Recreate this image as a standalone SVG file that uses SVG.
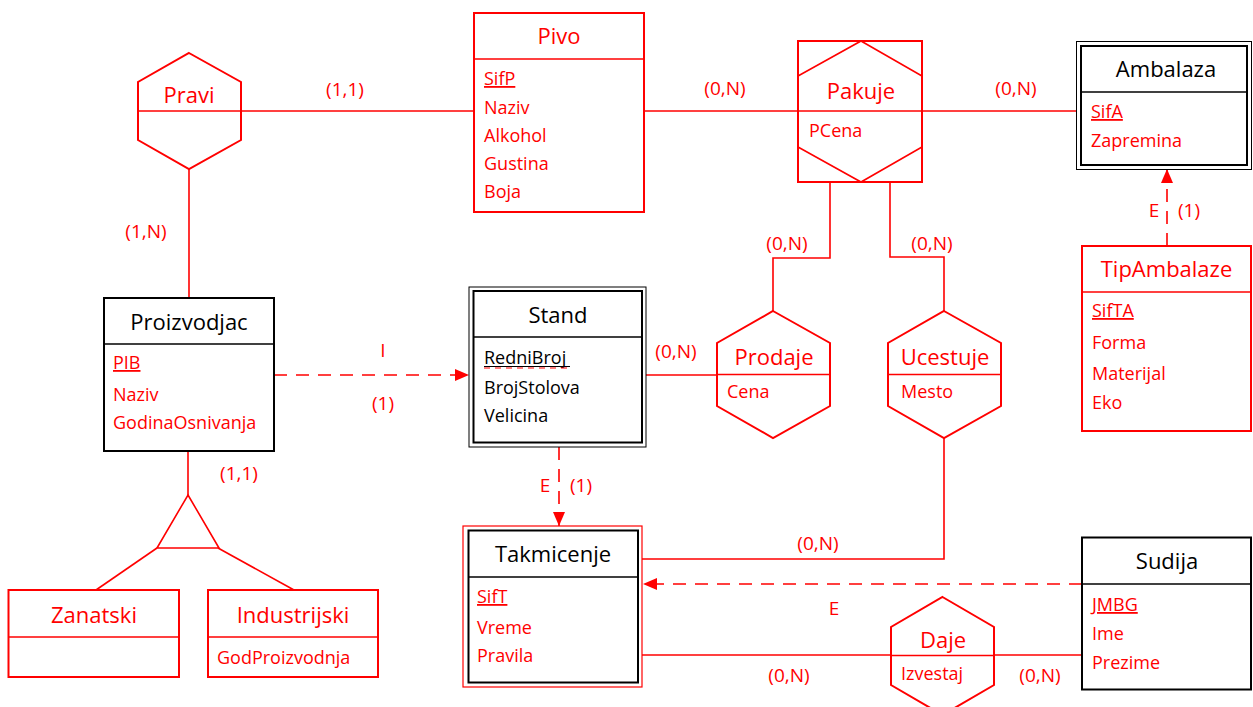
<svg xmlns="http://www.w3.org/2000/svg" width="1253" height="707" viewBox="0 0 1253 707">
<style>
text{font-family:"Open Sans","Liberation Sans",sans-serif;}
.t{font-size:22px;text-anchor:middle;}
.a{font-size:18px;}
.l{font-size:19px;text-anchor:middle;fill:#ff0000;}
.r{fill:#ff0000;}
.k{fill:#000;}
.u{text-decoration:underline;}
.rb{fill:#fff;stroke:#ff0000;stroke-width:2;}
.kb{fill:#fff;stroke:#000;stroke-width:2;}
.rl{fill:none;stroke:#ff0000;stroke-width:1.6;}
.kl{fill:none;stroke:#000;stroke-width:1.6;}
.k1{fill:none;stroke:#000;stroke-width:1;}
.r1{fill:none;stroke:#ff0000;stroke-width:1.2;}
.dash{fill:none;stroke:#ff0000;stroke-width:1.6;stroke-dasharray:13 9;}
</style>
<defs>
<marker id="arr" viewBox="0 0 14 12" refX="14" refY="6" markerWidth="14" markerHeight="12" markerUnits="userSpaceOnUse" orient="auto">
<path d="M0,0 L14,6 L0,12 z" fill="#ff0000"/>
</marker>
</defs>
<rect width="1253" height="707" fill="#fff"/>

<g id="connectors">
<line class="rl" x1="241" y1="111" x2="474" y2="111"/>
<line class="rl" x1="644" y1="111" x2="798" y2="111"/>
<line class="rl" x1="922" y1="111" x2="1077" y2="111"/>
<line class="rl" x1="189" y1="169" x2="189" y2="298"/>
<line class="rl" x1="188" y1="451" x2="188" y2="495"/>
<line class="rl" x1="157" y1="548" x2="96" y2="590"/>
<line class="rl" x1="218" y1="548" x2="294" y2="590"/>
<line class="dash" x1="274" y1="375" x2="469" y2="375" marker-end="url(#arr)"/>
<line class="rl" x1="646" y1="375" x2="717" y2="375"/>
<polyline class="rl" points="830,182 830,258 773,258 773,311"/>
<polyline class="rl" points="890,182 890,257 944,257 944,311"/>
<polyline class="rl" points="944,438 944,559 642,559"/>
<line class="dash" x1="559" y1="447" x2="559" y2="526" marker-end="url(#arr)"/>
<line class="dash" x1="1082" y1="584" x2="643" y2="584" marker-end="url(#arr)"/>
<line class="rl" x1="642" y1="655" x2="891" y2="655"/>
<line class="rl" x1="994" y1="655" x2="1082" y2="655"/>
<line class="dash" x1="1167" y1="246" x2="1167" y2="169" marker-end="url(#arr)"/>
<text class="l" x="345" y="96">(1,1)</text>
<text class="l" x="146" y="238">(1,N)</text>
<text class="l" x="725" y="95">(0,N)</text>
<text class="l" x="1016" y="95">(0,N)</text>
<text class="l" x="1154" y="217">E</text>
<text class="l" x="1189" y="217">(1)</text>
<text class="l" x="383" y="357">I</text>
<text class="l" x="383" y="410">(1)</text>
<text class="l" x="787" y="250">(0,N)</text>
<text class="l" x="932" y="250">(0,N)</text>
<text class="l" x="676" y="358">(0,N)</text>
<text class="l" x="239" y="480">(1,1)</text>
<text class="l" x="545" y="492">E</text>
<text class="l" x="581" y="492">(1)</text>
<text class="l" x="818" y="550">(0,N)</text>
<text class="l" x="834" y="615">E</text>
<text class="l" x="789" y="682">(0,N)</text>
<text class="l" x="1040" y="682">(0,N)</text>
</g>

<g id="Pravi">
<polygon class="rb" points="189,53 241,82 241,140 189,169 138,140 138,82"/>
<line class="rl" x1="138" y1="111" x2="241" y2="111"/>
<text class="t r" x="189" y="103">Pravi</text>
</g>

<g id="Pivo">
<rect class="rb" x="474" y="13" width="170" height="199"/>
<line class="rl" x1="474" y1="59" x2="644" y2="59"/>
<text class="t r" x="559" y="44">Pivo</text>
<text class="a r u" x="484" y="85">SifP</text>
<text class="a r" x="484" y="114">Naziv</text>
<text class="a r" x="484" y="142">Alkohol</text>
<text class="a r" x="484" y="170">Gustina</text>
<text class="a r" x="484" y="198">Boja</text>
</g>

<g id="Pakuje">
<rect class="rb" x="798" y="41" width="124" height="141"/>
<polygon class="rl" points="861,41 922,76 922,147 861,182 798,147 798,76"/>
<line class="rl" x1="798" y1="111" x2="922" y2="111"/>
<text class="t r" x="861" y="99">Pakuje</text>
<text class="a r" x="809" y="137">PCena</text>
</g>

<g id="Ambalaza">
<rect class="k1" x="1076.5" y="41.5" width="175" height="128"/>
<rect class="kb" x="1081" y="46" width="166" height="119"/>
<line class="kl" x1="1081" y1="92" x2="1247" y2="92"/>
<text class="t k" x="1166" y="77">Ambalaza</text>
<text class="a r u" x="1091" y="118">SifA</text>
<text class="a r" x="1091" y="147">Zapremina</text>
</g>

<g id="TipAmbalaze">
<rect class="rb" x="1082" y="246" width="169" height="185"/>
<line class="rl" x1="1082" y1="292" x2="1251" y2="292"/>
<text class="t r" x="1166.5" y="277">TipAmbalaze</text>
<text class="a r u" x="1092" y="317">SifTA</text>
<text class="a r" x="1092" y="349">Forma</text>
<text class="a r" x="1092" y="380">Materijal</text>
<text class="a r" x="1092" y="409">Eko</text>
</g>

<g id="Proizvodjac">
<rect class="kb" x="104" y="298" width="170" height="153"/>
<line class="kl" x1="104" y1="344" x2="274" y2="344"/>
<text class="t k" x="189" y="330">Proizvodjac</text>
<text class="a r u" x="113" y="369">PIB</text>
<text class="a r" x="113" y="401">Naziv</text>
<text class="a r" x="113" y="429">GodinaOsnivanja</text>
</g>

<g id="Stand">
<rect class="k1" x="469" y="287" width="177" height="160"/>
<rect class="kb" x="473.5" y="291" width="168.5" height="151.5"/>
<line class="kl" x1="473.5" y1="337" x2="642" y2="337"/>
<text class="t k" x="558" y="323">Stand</text>
<text class="a k" x="484" y="364">RedniBroj</text>
<line class="k1" x1="484" y1="366.5" x2="570" y2="366.5"/>
<line class="r1" x1="484" y1="368" x2="570" y2="368" stroke-dasharray="6 5"/>
<text class="a k" x="484" y="394">BrojStolova</text>
<text class="a k" x="484" y="422">Velicina</text>
</g>

<g id="Prodaje">
<polygon class="rb" points="773,311 830,343 830,406 773,438 717,406 717,343"/>
<line class="rl" x1="717" y1="374.5" x2="830" y2="374.5"/>
<text class="t r" x="774" y="365">Prodaje</text>
<text class="a r" x="727" y="398">Cena</text>
</g>

<g id="Ucestuje">
<polygon class="rb" points="944,311 1001,343 1001,406 944,438 888,406 888,343"/>
<line class="rl" x1="888" y1="374.5" x2="1001" y2="374.5"/>
<text class="t r" x="945" y="365">Ucestuje</text>
<text class="a r" x="901" y="398">Mesto</text>
</g>

<g id="Specijalizacija">
<polygon class="rl" points="188,495 219,548 157,548"/>
</g>

<g id="Zanatski">
<rect class="rb" x="8.5" y="590" width="170.5" height="87"/>
<line class="rl" x1="8.5" y1="637" x2="179" y2="637"/>
<text class="t r" x="94" y="623">Zanatski</text>
</g>

<g id="Industrijski">
<rect class="rb" x="208" y="590" width="170" height="87"/>
<line class="rl" x1="208" y1="637" x2="378" y2="637"/>
<text class="t r" x="293" y="623">Industrijski</text>
<text class="a r" x="217" y="664">GodProizvodnja</text>
</g>

<g id="Takmicenje">
<rect class="r1" x="463" y="526" width="179" height="161"/>
<rect class="kb" x="468.5" y="530.5" width="169.5" height="152"/>
<line class="kl" x1="468.5" y1="577" x2="638" y2="577"/>
<text class="t k" x="553" y="562">Takmicenje</text>
<text class="a r u" x="477" y="603">SifT</text>
<text class="a r" x="477" y="634">Vreme</text>
<text class="a r" x="477" y="662">Pravila</text>
</g>

<g id="Sudija">
<rect class="kb" x="1082" y="537.5" width="169" height="152"/>
<line class="kl" x1="1082" y1="584" x2="1251" y2="584"/>
<text class="t k" x="1167" y="569">Sudija</text>
<text class="a r u" x="1092" y="611">JMBG</text>
<text class="a r" x="1092" y="640">Ime</text>
<text class="a r" x="1092" y="669">Prezime</text>
</g>

<g id="Daje">
<polygon class="rb" points="942.5,597 994,627 994,685 942.5,715 891,685 891,627"/>
<line class="rl" x1="891" y1="655.5" x2="994" y2="655.5"/>
<text class="t r" x="943" y="648">Daje</text>
<text class="a r" x="901" y="680">Izvestaj</text>
</g>
</svg>
